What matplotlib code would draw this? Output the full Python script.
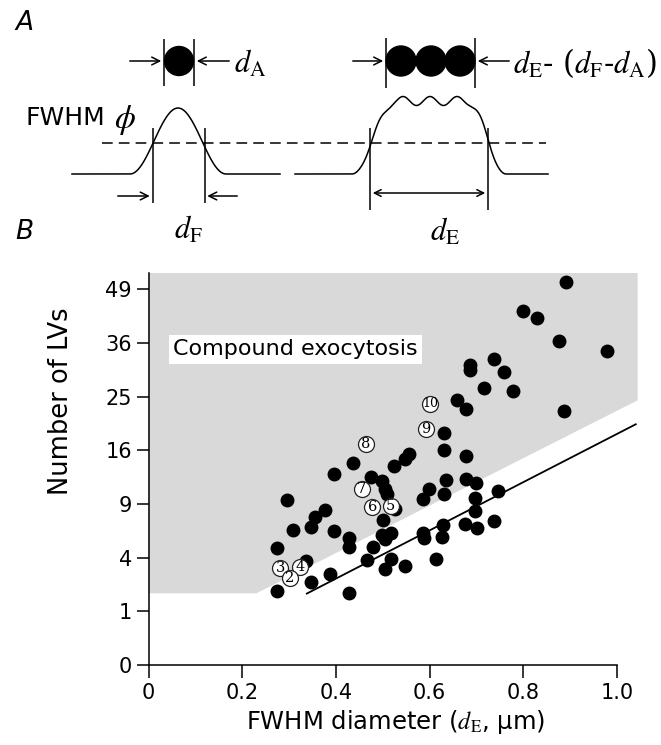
import numpy as np
import matplotlib
matplotlib.use("Agg")
import matplotlib.pyplot as plt
from matplotlib.patches import Polygon, Circle

plt.rcParams['font.family'] = ['DejaVu Sans']
plt.rcParams['mathtext.fontset'] = 'stix'

# ---- panel B data: FWHM diameter (um) vs number of LVs ----
dot_x = [0.891, 0.799, 0.829, 0.877, 0.978, 0.738, 0.687, 0.687, 0.758, 0.717,
         0.778, 0.659, 0.678, 0.887, 0.631, 0.630, 0.678, 0.635, 0.678, 0.699,
         0.630, 0.697, 0.746, 0.697, 0.628, 0.676, 0.701, 0.738, 0.557, 0.548,
         0.524, 0.436, 0.395, 0.474, 0.498, 0.505, 0.509, 0.598, 0.585, 0.626,
         0.585, 0.588, 0.614, 0.295, 0.377, 0.356, 0.308, 0.346, 0.395, 0.427,
         0.427, 0.500, 0.498, 0.517, 0.505, 0.479, 0.275, 0.336, 0.466, 0.517,
         0.505, 0.548, 0.388, 0.346, 0.275, 0.427, 0.526]
dot_n = [51.0, 43.5, 41.8, 36.5, 34.2, 32.5, 31.2, 30.2, 29.8, 26.7,
         26.1, 24.3, 22.7, 22.4, 18.7, 16.0, 15.2, 11.9, 12.0, 11.5,
         10.2, 9.7, 10.5, 8.25, 6.8, 6.86, 6.5, 7.2, 15.4, 14.7,
         13.8, 14.2, 12.7, 12.2, 11.7, 10.8, 10.1, 10.7, 9.6, 5.65,
         6.07, 5.57, 3.87, 9.44, 8.33, 7.62, 6.32, 6.57, 6.25, 5.57,
         4.85, 7.29, 5.86, 6.07, 5.47, 4.85, 4.72, 3.75, 3.82, 3.87,
         3.18, 3.40, 2.87, 2.37, 1.91, 1.78, 8.41]

# numbered example events (open circles)
num_labels = ['10', '9', '8', '7', '6', '5', '3', '4', '2']
num_x = [0.601, 0.592, 0.464, 0.455, 0.478, 0.517, 0.281, 0.324, 0.302]
num_n = [23.7, 19.4, 16.9, 10.7, 8.63, 8.77, 3.24, 3.35, 2.61]

# shaded compound-exocytosis region and lower-limit line
region_x = [0, 0.23, 1.044, 1.044, 0]
region_n = [1.78, 1.78, 24.3, 53.3, 53.3]
limit_x = [0.338, 1.04]
limit_n = [1.77, 20.1]

x_ticks = [0, 0.2, 0.4, 0.6, 0.8, 1.0]
x_ticklabels = ['0', '0.2', '0.4', '0.6', '0.8', '1.0']
y_ticks = [0, 1, 4, 9, 16, 25, 36, 49]

fig = plt.figure(figsize=(6.61, 7.45), dpi=100)

# ---------------- panel A (schematic, pixel coordinates) ----------------
axa = fig.add_axes([0, 1 - 250 / 745, 1, 250 / 745])
axa.set_xlim(0, 661)
axa.set_ylim(250, 0)
axa.axis('off')

lw = 1.1
arrow = dict(arrowstyle='->', lw=lw, color='black', mutation_scale=14)

def harrow(x0, x1, y):
    axa.annotate('', xy=(x1, y), xytext=(x0, y), arrowprops=arrow)

# single vesicle
axa.add_patch(Circle((179, 61), 14.5, color='black'))
axa.vlines([164, 194], 39, 86, color='black', lw=lw)
harrow(127, 164, 61)
harrow(232, 194, 61)
axa.text(234, 63, r'$d_\mathrm{A}$', fontsize=22, va='center', ha='left')

# three vesicles
for cx in [401, 431, 460]:
    axa.add_patch(Circle((cx, 61), 15, color='black'))
axa.vlines([386, 475], 38, 88, color='black', lw=lw)
harrow(350, 386, 61)
harrow(512, 475, 61)
axa.text(513, 63, r'$d_\mathrm{E}$- ($d_\mathrm{F}$-$d_\mathrm{A}$)', fontsize=22,
         va='center', ha='left', family='DejaVu Serif')

# half maximum level
axa.plot([102, 546], [143, 143], color='black', lw=lw, dashes=[7, 4])
axa.text(26, 118, 'FWHM', fontsize=18, va='center', ha='left')
axa.text(114, 120, r'$\phi$', fontsize=24, va='center', ha='left')

# single-vesicle profile
xs = np.linspace(130, 226, 200)
ys = 174 - 66 * 0.5 * (1 + np.cos(np.pi * (xs - 178) / 48))
axa.plot(np.r_[72, xs, 280], np.r_[174, ys, 174], color='black', lw=lw)
axa.vlines([152.5, 204.5], 128, 203, color='black', lw=lw)
harrow(115, 152.5, 196)
harrow(240, 204.5, 196)
axa.text(188, 229, r'$d_\mathrm{F}$', fontsize=22, va='center', ha='center')

# compound profile
xr = np.linspace(352, 506, 400)
s = np.ones_like(xr)
rise = xr < 395
s[rise] = 0.5 * (1 - np.cos(np.pi * (xr[rise] - 352) / 43))
fall = xr > 468
s[fall] = 0.5 * (1 + np.cos(np.pi * (xr[fall] - 468) / 38))
top = 101 - 4.5 * np.cos(2 * np.pi * (xr - 430) / 27)
yr = 174 - (174 - top) * s
axa.plot(np.r_[295, xr, 548], np.r_[174, yr, 174], color='black', lw=lw)
axa.vlines([370, 488], 128, 210, color='black', lw=lw)
axa.annotate('', xy=(488, 193), xytext=(370, 193),
             arrowprops=dict(arrowstyle='<->', lw=lw, color='black', mutation_scale=12))
axa.text(445, 231, r'$d_\mathrm{E}$', fontsize=22, va='center', ha='center')

axa.text(15, 23, 'A', fontsize=19, style='italic', va='center', ha='left')
axa.text(15, 232, 'B', fontsize=19, style='italic', va='center', ha='left')

# ---------------- panel B ----------------
ax = fig.add_axes([148.5 / 661, 80 / 745, 468.5 / 661, 392 / 745])
ax.set_yscale('function', functions=(lambda v: np.sqrt(np.clip(v, 0, None)), np.square))
ax.set_xlim(0, 1.0)
ax.set_ylim(0, 53.3)

ax.add_patch(Polygon(np.column_stack([region_x, region_n]), closed=True,
                     facecolor='#d9d9d9', edgecolor='none', clip_on=False, zorder=0))
ax.plot(limit_x, limit_n, color='black', lw=1.3, clip_on=False, zorder=2)
ax.plot(dot_x, dot_n, 'o', color='black', ms=9, mec='black', clip_on=False, zorder=3)

for lab, x, n in zip(num_labels, num_x, num_n):
    ax.plot(x, n, 'o', ms=11.5, mfc='white', mec='#222222', mew=0.9, zorder=4)
    ax.text(x, n, lab, fontsize=9 if len(lab) > 1 else 10.5, family='DejaVu Serif',
            ha='center', va='center', zorder=5)

ax.text(0.053, 0.805, 'Compound exocytosis', transform=ax.transAxes, fontsize=16,
        va='center', ha='left', zorder=6,
        bbox=dict(facecolor='white', edgecolor='none', pad=3))

for side in ['top', 'right']:
    ax.spines[side].set_visible(False)
for side in ['left', 'bottom']:
    ax.spines[side].set_linewidth(1.1)
ax.set_xticks(x_ticks)
ax.set_xticklabels(x_ticklabels)
ax.set_yticks(y_ticks)
ax.set_yticklabels([str(v) for v in y_ticks])
ax.minorticks_off()
ax.tick_params(axis='both', direction='out', length=9, width=1.1, labelsize=15)
ax.tick_params(axis='x', pad=4)
ax.tick_params(axis='y', pad=3)

ax.set_xlabel(r'FWHM diameter ($d_\mathrm{E}$, μm)', fontsize=17.5)
ax.xaxis.set_label_coords(0.528, -0.11)
ax.set_ylabel('Number of LVs', fontsize=18.5)
ax.yaxis.set_label_coords(-0.16, 0.673)

fig.savefig('out.png', dpi=100)
